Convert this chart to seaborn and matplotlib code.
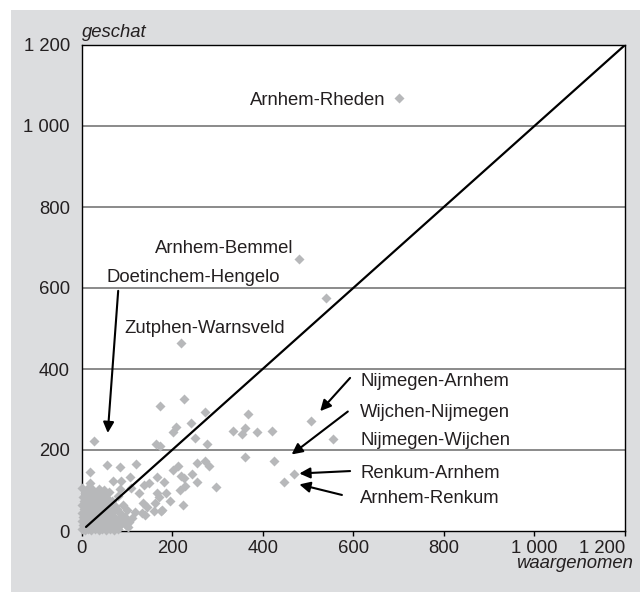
import matplotlib
matplotlib.use("Agg")
import matplotlib.pyplot as plt
from matplotlib.patches import Rectangle
import seaborn as sns
import pandas as pd

# ---- data ----
# dense cluster near the origin
cluster_x = [2, 8, 15, 22, 30, 38, 46, 55, 64, 72, 80,
             3, 11, 19, 27, 35, 44, 52, 61, 70, 85, 98,
             1, 9, 17, 26, 33, 41, 50, 58, 67, 76, 90, 105,
             4, 12, 20, 29, 37, 45, 54, 63, 72, 82, 95, 112,
             2, 10, 18, 27, 36, 44, 53, 60, 70, 88, 118,
             5, 13, 22, 31, 39, 48, 57, 66, 78, 100,
             1, 9, 17, 25, 34, 42, 51, 60, 74, 92,
             6, 14, 23, 32, 40, 49, 58, 68,
             3, 11, 20, 29, 37, 46, 55, 80,
             7, 16, 25, 34, 43, 60,
             2, 12, 22, 38, 50]
cluster_y = [4, 3, 5, 2, 4, 3, 6, 2, 5, 3, 6,
             14, 13, 15, 12, 16, 14, 13, 15, 12, 14, 16,
             24, 25, 23, 26, 24, 22, 25, 24, 27, 23, 25, 22,
             35, 33, 36, 34, 32, 35, 33, 36, 34, 31, 35, 33,
             44, 46, 43, 45, 47, 43, 45, 44, 46, 42, 47,
             55, 53, 56, 54, 52, 55, 57, 53, 55, 52,
             64, 66, 63, 65, 67, 63, 64, 66, 62, 65,
             75, 73, 76, 74, 72, 75, 77, 73,
             85, 83, 86, 84, 82, 85, 83, 86,
             95, 93, 96, 94, 92, 97,
             105, 103, 106, 104, 102]

# scattered relations
scatter_x = [28, 226, 173, 273, 241, 209, 201, 251, 164, 173, 276, 335, 354, 361,
             367, 387, 421, 360, 426, 469, 447, 507, 556, 18, 56, 84, 121, 19,
             70, 88, 106, 138, 150, 166, 183, 203, 212, 219, 226, 217, 228, 244,
             254, 255, 272, 282, 298, 166, 172, 195, 223, 161, 176, 144, 134, 103,
             84, 110, 128, 140, 162, 136, 80, 186, 177,
             700, 481, 540, 219]
scatter_y = [222, 327, 308, 294, 266, 258, 245, 230, 214, 211, 214, 248, 240, 255,
             288, 245, 247, 183, 172, 141, 121, 271, 226, 146, 164, 158, 165, 119,
             123, 123, 134, 114, 119, 134, 121, 151, 160, 136, 130, 102, 111, 141,
             168, 121, 172, 160, 108, 93, 83, 74, 63, 49, 49, 60, 44, 11,
             103, 105, 93, 40, 68, 68, 19, 93, 52,
             1068, 671, 576, 465]

diag_x = [10, 1200]
diag_y = [10, 1200]

tick_values = [0, 200, 400, 600, 800, 1000, 1200]
tick_labels = ["0", "200", "400", "600", "800", "1 000", "1 200"]
grid_values = [200, 400, 600, 800, 1000]

# labels: text, x, baseline y, alignment
label_text = ["Arnhem-Rheden", "Arnhem-Bemmel", "Doetinchem-Hengelo", "Zutphen-Warnsveld",
              "Nijmegen-Arnhem", "Wijchen-Nijmegen", "Nijmegen-Wijchen",
              "Renkum-Arnhem", "Arnhem-Renkum"]
label_x = [672, 467, 55, 449, 615, 615, 615, 615, 615]
label_y = [1052, 687, 615, 488, 358, 282, 212, 130, 70]
label_ha = ["right", "right", "left", "right", "left", "left", "left", "left", "left"]

# arrows: tail and head
arrow_x0 = [81, 593, 588, 593, 575]
arrow_y0 = [593, 378, 295, 148, 89]
arrow_x1 = [58, 527, 464, 481, 481]
arrow_y1 = [242, 296, 189, 142, 115]

# ---- figure ----
sns.set_theme(style="white")
plt.rcParams["font.family"] = ["Liberation Sans", "DejaVu Sans"]
TXT = "#231f20"
FS = 13.3

fig = plt.figure(figsize=(6.4, 5.92), dpi=100, facecolor="white")
fig.patches.append(Rectangle((11 / 640, 0), 1, 582 / 592, transform=fig.transFigure,
                             facecolor="#dcdddf", edgecolor="none", zorder=-10))
ax = fig.add_axes([81.5 / 640, 1 - 531 / 592, (625 - 81.5) / 640, (531 - 45) / 592])
ax.set_facecolor("white")

df = pd.DataFrame({"x": cluster_x + scatter_x, "y": cluster_y + scatter_y})
sns.scatterplot(data=df, x="x", y="y", ax=ax, marker="D", s=26, color="#b7b8ba",
                linewidth=0, zorder=3, clip_on=False)

for g in grid_values:
    ax.axhline(g, color="#8a8a8a", lw=1.4, zorder=1)

ax.plot(diag_x, diag_y, color="black", lw=1.6, zorder=4)

ax.set_xlim(0, 1200)
ax.set_ylim(0, 1200)
ax.set_xticks(tick_values)
ax.set_xticklabels(tick_labels)
ax.set_yticks(tick_values)
ax.set_yticklabels(tick_labels)
ax.get_xticklabels()[-1].set_horizontalalignment("right")
ax.tick_params(axis="x", bottom=True, length=3.5, width=1, color="black", pad=3,
               labelsize=FS, labelcolor=TXT, direction="out")
ax.tick_params(axis="y", left=False, length=0, pad=8.3, labelsize=FS, labelcolor=TXT)
ax.set_xlabel("")
ax.set_ylabel("")
for sp in ax.spines.values():
    sp.set_visible(True)
    sp.set_color("black")
    sp.set_linewidth(1.0)

ax.annotate("geschat", xy=(0, 1), xycoords="axes fraction", xytext=(0, 5.5),
            textcoords="offset points", ha="left", va="baseline", fontsize=FS,
            style="italic", color=TXT)
ax.annotate("waargenomen", xy=(1, 0), xycoords="axes fraction", xytext=(5.8, -27),
            textcoords="offset points", ha="right", va="baseline", fontsize=FS,
            style="italic", color=TXT, annotation_clip=False)

for t, x, y, ha in zip(label_text, label_x, label_y, label_ha):
    ax.text(x, y, t, ha=ha, va="baseline", fontsize=FS, color=TXT, zorder=5)

for x0, y0, x1, y1 in zip(arrow_x0, arrow_y0, arrow_x1, arrow_y1):
    ax.annotate("", xy=(x1, y1), xytext=(x0, y0),
                arrowprops=dict(arrowstyle="-|>", color="black", lw=1.5,
                                mutation_scale=16, shrinkA=0, shrinkB=0),
                zorder=5)

fig.savefig("out.png", dpi=100, facecolor="white")
